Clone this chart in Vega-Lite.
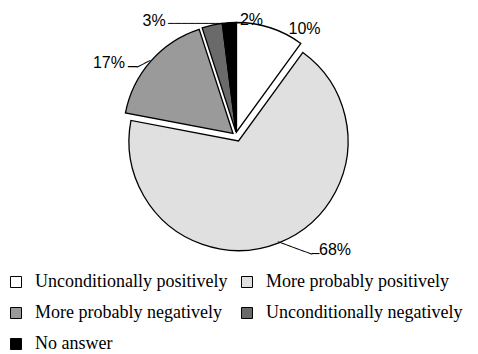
{
  "$schema": "https://vega.github.io/schema/vega-lite/v6.json",
  "width": 472,
  "height": 262,
  "autosize": {"type": "none"},
  "padding": {"left": 0, "top": 0, "right": 6, "bottom": 92},
  "background": "white",
  "config": {"view": {"stroke": null}},
  "data": {
    "values": [
      {"answer": "Unconditionally positively", "share": 10, "label": "10%"},
      {"answer": "More probably positively", "share": 68, "label": "68%"},
      {"answer": "More probably negatively", "share": 17, "label": "17%"},
      {"answer": "Unconditionally negatively", "share": 3, "label": "3%"},
      {"answer": "No answer", "share": 2, "label": "2%"}
    ]
  },
  "transform": [{"stack": "share", "groupby": [], "as": ["v0", "v1"]}],
  "layer": [
    {
      "transform": [{"filter": "datum.answer === 'Unconditionally positively'"}],
      "mark": {"type": "arc", "outerRadius": 109.5, "stroke": "black", "strokeWidth": 1.3, "xOffset": 0.5, "yOffset": 1},
      "encoding": {
        "theta": {"field": "v0", "type": "quantitative", "scale": {"domain": [0, 100], "range": [0, 6.283185307179586]}},
        "theta2": {"field": "v1"},
        "color": {
          "field": "answer", "type": "nominal",
          "scale": {"domain": ["Unconditionally positively", "More probably positively", "More probably negatively", "Unconditionally negatively", "No answer"], "range": ["#ffffff", "#e0e0e0", "#9a9a9a", "#6a6a6a", "#000000"]},
          "legend": {"title": null, "orient": "none", "direction": "horizontal", "legendX": 7, "legendY": 273, "columns": 2, "symbolType": "square", "symbolSize": 121, "symbolStrokeColor": "black", "symbolStrokeWidth": 1, "symbolOpacity": 1, "labelFont": "Liberation Serif", "labelFontSize": 18, "labelColor": "black", "labelLimit": 400, "labelOffset": 10, "rowPadding": 13, "columnPadding": 10, "padding": 0, "offset": 0}
        }
      }
    },
    {
      "transform": [{"filter": "datum.answer === 'More probably positively'"}],
      "mark": {"type": "arc", "outerRadius": 109.5, "stroke": "black", "strokeWidth": 1.3, "xOffset": 2.5, "yOffset": 10},
      "encoding": {
        "theta": {"field": "v0", "type": "quantitative", "scale": {"domain": [0, 100], "range": [0, 6.283185307179586]}},
        "theta2": {"field": "v1"},
        "color": {"field": "answer", "type": "nominal"}
      }
    },
    {
      "transform": [{"filter": "datum.answer === 'More probably negatively'"}],
      "mark": {"type": "arc", "outerRadius": 109.5, "stroke": "black", "strokeWidth": 1.3, "xOffset": -3, "yOffset": 2.5},
      "encoding": {
        "theta": {"field": "v0", "type": "quantitative", "scale": {"domain": [0, 100], "range": [0, 6.283185307179586]}},
        "theta2": {"field": "v1"},
        "color": {"field": "answer", "type": "nominal"}
      }
    },
    {
      "transform": [{"filter": "datum.answer === 'Unconditionally negatively' || datum.answer === 'No answer'"}],
      "mark": {"type": "arc", "outerRadius": 109.5, "stroke": "black", "strokeWidth": 1.3, "yOffset": 1},
      "encoding": {
        "theta": {"field": "v0", "type": "quantitative", "scale": {"domain": [0, 100], "range": [0, 6.283185307179586]}},
        "theta2": {"field": "v1"},
        "color": {"field": "answer", "type": "nominal"}
      }
    },
    {
      "transform": [{"filter": "datum.answer === 'Unconditionally positively'"}],
      "mark": {"type": "text", "radius": 122.9, "thetaOffset": 0.592, "font": "Liberation Sans", "fontSize": 16, "align": "center", "baseline": "middle", "color": "black"},
      "encoding": {"theta": {"field": "v0", "type": "quantitative"}, "text": {"field": "label"}}
    },
    {
      "transform": [{"filter": "datum.answer === 'No answer'"}],
      "mark": {"type": "text", "radius": 112.1, "thetaOffset": 0.264, "font": "Liberation Sans", "fontSize": 16, "align": "center", "baseline": "middle", "color": "black"},
      "encoding": {"theta": {"field": "v0", "type": "quantitative"}, "text": {"field": "label"}}
    },
    {
      "transform": [{"filter": "datum.answer === 'Unconditionally negatively'"}],
      "mark": {"type": "text", "radius": 137.2, "thetaOffset": -0.326, "font": "Liberation Sans", "fontSize": 16, "align": "center", "baseline": "middle", "color": "black"},
      "encoding": {"theta": {"field": "v0", "type": "quantitative"}, "text": {"field": "label"}}
    },
    {
      "transform": [{"filter": "datum.answer === 'More probably negatively'"}],
      "mark": {"type": "text", "radius": 144.3, "thetaOffset": 0.306, "font": "Liberation Sans", "fontSize": 16, "align": "center", "baseline": "middle", "color": "black"},
      "encoding": {"theta": {"field": "v0", "type": "quantitative"}, "text": {"field": "label"}}
    },
    {
      "transform": [{"filter": "datum.answer === 'More probably positively'"}],
      "mark": {"type": "text", "radius": 155.2, "thetaOffset": 1.821, "font": "Liberation Sans", "fontSize": 16, "align": "center", "baseline": "middle", "color": "black"},
      "encoding": {"theta": {"field": "v0", "type": "quantitative"}, "text": {"field": "label"}}
    },
    {
      "transform": [{"filter": "datum.answer === 'Unconditionally negatively'"}],
      "mark": {"type": "text", "text": "────────", "radius": 126.4, "thetaOffset": -0.254, "font": "DejaVu Sans", "fontSize": 11.2, "align": "left", "baseline": "middle", "color": "black"},
      "encoding": {"theta": {"field": "v0", "type": "quantitative"}}
    },
    {
      "transform": [{"filter": "datum.answer === 'More probably negatively'"}],
      "mark": {"type": "text", "text": "─", "radius": 125.4, "thetaOffset": 0.344, "font": "DejaVu Sans", "fontSize": 15, "align": "left", "baseline": "middle", "color": "black"},
      "encoding": {"theta": {"field": "v0", "type": "quantitative"}}
    },
    {
      "transform": [{"filter": "datum.answer === 'More probably negatively'"}],
      "mark": {"type": "text", "text": "──", "radius": 117.7, "thetaOffset": 0.383, "angle": -26.6, "font": "DejaVu Sans", "fontSize": 12.3, "align": "left", "baseline": "middle", "color": "black"},
      "encoding": {"theta": {"field": "v0", "type": "quantitative"}}
    },
    {
      "transform": [{"filter": "datum.answer === 'More probably positively'"}],
      "mark": {"type": "text", "text": "─────", "radius": 118.4, "thetaOffset": 2.151, "angle": 20.5, "font": "DejaVu Sans", "fontSize": 12, "align": "left", "baseline": "middle", "color": "black"},
      "encoding": {"theta": {"field": "v0", "type": "quantitative"}}
    },
    {
      "transform": [{"filter": "datum.answer === 'More probably positively'"}],
      "mark": {"type": "text", "text": "─", "radius": 144.7, "thetaOffset": 1.963, "font": "DejaVu Sans", "fontSize": 12.6, "align": "left", "baseline": "middle", "color": "black"},
      "encoding": {"theta": {"field": "v0", "type": "quantitative"}}
    }
  ]
}
